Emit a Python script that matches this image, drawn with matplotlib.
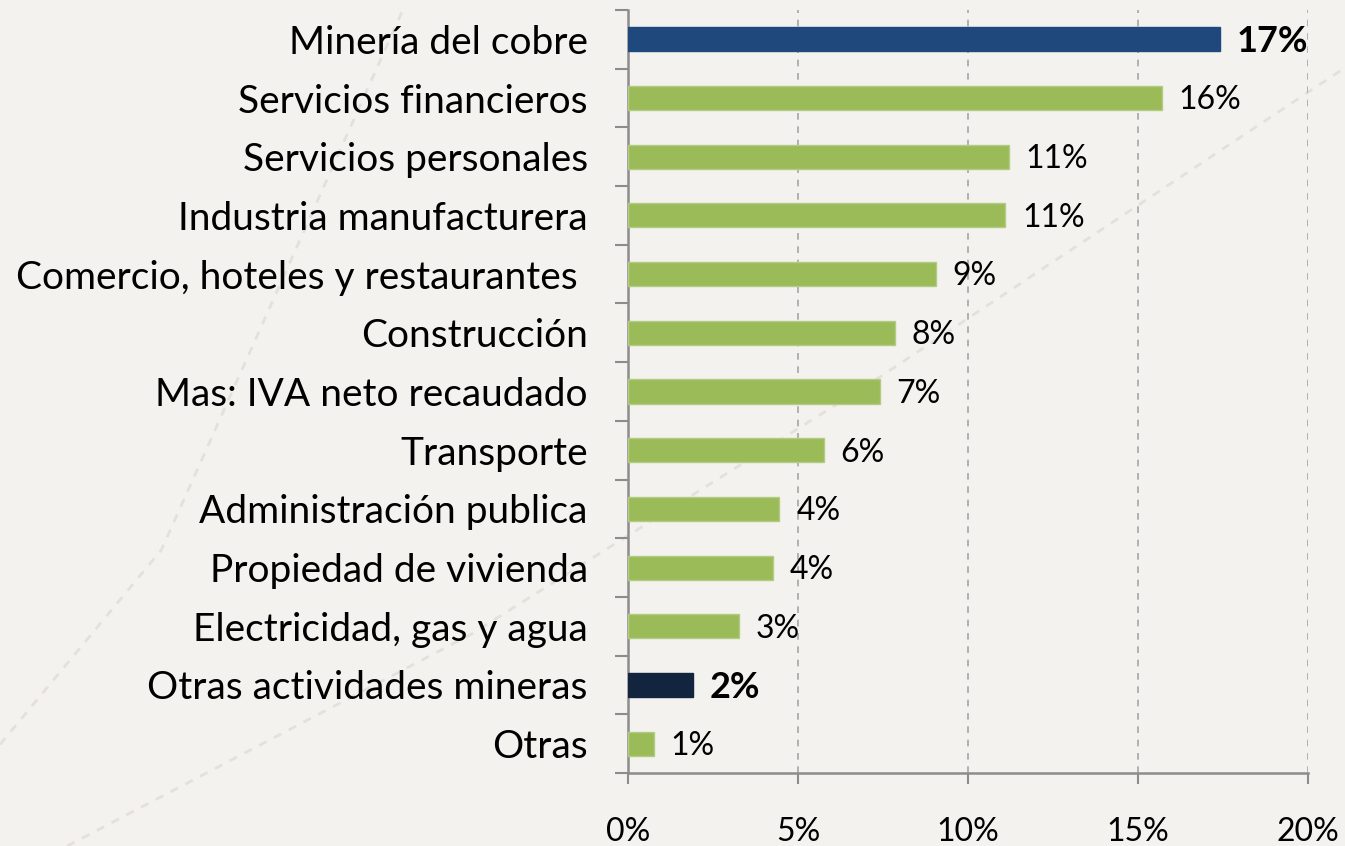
import matplotlib
matplotlib.use("Agg")
import matplotlib.pyplot as plt
from matplotlib.lines import Line2D

categories = ["Minería del cobre", "Servicios financieros", "Servicios personales",
              "Industria manufacturera", "Comercio, hoteles y restaurantes ",
              "Construcción", "Mas: IVA neto recaudado", "Transporte",
              "Administración publica", "Propiedad de vivienda",
              "Electricidad, gas y agua", "Otras actividades mineras", "Otras"]
values = [17.4, 15.7, 11.2, 11.1, 9.05, 7.85, 7.4, 5.75, 4.45, 4.25, 3.25, 1.9, 0.75]
labels = ["17%", "16%", "11%", "11%", "9%", "8%", "7%", "6%", "4%", "4%", "3%", "2%", "1%"]
highlight = {0: "#1f497d", 11: "#13243f"}
green = "#9bbb59"
xticks = [0, 5, 10, 15, 20]
xticklabels = ["0%", "5%", "10%", "15%", "20%"]

bg = "#f4f2ee"
plt.rcParams['font.family'] = ['Lato', 'DejaVu Sans']

fig = plt.figure(figsize=(13.45, 8.46), dpi=100, facecolor=bg)
# decorative faint dashed background lines
for xs, ys in [([0.0, 0.12, 0.30], [0.12, 0.35, 0.99]),
               ([0.05, 0.35, 0.65, 1.0], [0.0, 0.25, 0.55, 0.92])]:
    fig.add_artist(Line2D(xs, ys, transform=fig.transFigure, color="#e4e1dc",
                          lw=2, ls=(0, (3, 3)), zorder=0))

ax = fig.add_axes([628/1345, 1-773/846, 680/1345, 763/846])
ax.set_facecolor("none")

n = len(categories)
ypos = list(range(n))
colors = [highlight.get(i, green) for i in range(n)]
edges = [highlight.get(i, "#b3cc83") for i in range(n)]
ax.barh(ypos, values, height=0.41, color=colors, edgecolor=edges, linewidth=1, zorder=3)
ax.set_ylim(n - 0.5, -0.5)
ax.set_xlim(0, 20)

for i, (v, lab) in enumerate(zip(values, labels)):
    bold = i in highlight
    ax.text(v + 0.5, i + 0.04, lab, va="center", ha="left",
            fontsize=26 if bold else 23, fontweight="bold" if bold else "normal",
            color="black", zorder=4)

ax.set_yticks(ypos)
ax.set_yticklabels(categories, fontsize=28)
ax.tick_params(axis="y", which="major", length=0, pad=29)
ax.set_yticks([i - 0.5 for i in range(n + 1)], minor=True)
ax.tick_params(axis="y", which="minor", length=9.5, width=1.5, color="#8c8c8c")

ax.set_xticks(xticks)
ax.set_xticklabels(xticklabels, fontsize=23)
ax.tick_params(axis="x", length=8, width=1.5, color="#8c8c8c", pad=24)

ax.grid(axis="x", color="#a6a6a6", ls=(0, (4, 4)), lw=1.2, zorder=1)
for s in ["top", "right"]:
    ax.spines[s].set_visible(False)
for s in ["left", "bottom"]:
    ax.spines[s].set_color("#8c8c8c")
    ax.spines[s].set_linewidth(1.8)

fig.savefig("out.png", dpi=100, facecolor=bg)
